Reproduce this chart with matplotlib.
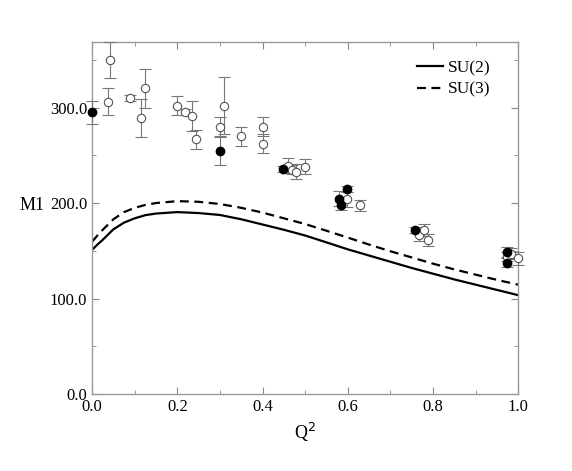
import numpy as np
import matplotlib
matplotlib.use("Agg")
from matplotlib import pyplot as plt
from matplotlib.ticker import MultipleLocator, FormatStrFormatter

plt.rcParams['font.family'] = ['Liberation Serif', 'DejaVu Serif']

# theory curves
q2_curve = [0.0, 0.0125, 0.025, 0.05, 0.075, 0.1, 0.125, 0.15, 0.2, 0.25, 0.3,
            0.35, 0.4, 0.45, 0.5, 0.55, 0.6, 0.65, 0.7, 0.75, 0.8, 0.85, 0.9,
            0.95, 1.0]
su2 = [151, 156.5, 161.5, 172.5, 179.5, 184, 187.3, 189, 190.5, 189.5, 187.5,
       183, 177.5, 172, 166, 158.8, 151.5, 145, 138.5, 132, 126, 120, 114.5,
       109, 103.5]
su3 = [159.5, 166, 172, 183, 190.5, 195, 198, 200, 202, 201.3, 199,
       195, 190, 184, 178, 171, 163.8, 156.5, 149.5, 143, 136.5, 130.5, 125,
       119.5, 114.5]

# filled data points
q2_full = [0.0, 0.30, 0.448, 0.579, 0.584, 0.599, 0.758, 0.973, 0.974]
m1_full = [295, 254.5, 235.5, 204.5, 197.5, 214.5, 172, 149, 137.5]
err_full = [12, 15, 3, 8, 5, 3, 3, 5, 5]

# open data points
q2_open = [0.037, 0.042, 0.088, 0.114, 0.124, 0.199, 0.218, 0.234, 0.244, 0.30,
           0.309, 0.349, 0.40, 0.40, 0.46, 0.469, 0.479, 0.50, 0.599, 0.629,
           0.768, 0.779, 0.789, 0.973, 0.984, 0.999]
m1_open = [306, 350, 310, 289, 320, 302, 295, 291, 267, 280,
           302, 270, 280, 262, 239, 235, 233, 238, 204, 197.5,
           166.5, 172, 161.5, 144, 147, 142]
err_open = [14, 19, 3, 20, 20, 10, 3, 16, 10, 10,
            30, 10, 10, 10, 8, 5, 8, 8, 8, 6,
            6, 6, 6, 5, 6, 7]

fig = plt.figure(figsize=(5.72, 4.71), dpi=100)
ax = fig.add_axes([0.161, 0.1635, 0.745, 0.748])

ax.plot(q2_curve, su2, color='black', lw=1.6, label='SU(2)')
ax.plot(q2_curve, su3, color='black', lw=1.6, ls=(0, (4, 2.5)), label='SU(3)')

ax.errorbar(q2_open, m1_open, yerr=err_open, fmt='o', ms=6, mfc='white',
            mec='#555555', mew=0.8, ecolor='#777777', elinewidth=0.8,
            capsize=4, capthick=0.8, clip_on=False, zorder=3)
ax.errorbar(q2_full, m1_full, yerr=err_full, fmt='o', ms=6, mfc='black',
            mec='black', ecolor='#777777', elinewidth=0.8, capsize=4,
            capthick=0.8, clip_on=False, zorder=3)

ax.set_xlim(0, 1)
ax.set_ylim(0, 369)
ax.xaxis.set_major_locator(MultipleLocator(0.2))
ax.xaxis.set_minor_locator(MultipleLocator(0.1))
ax.yaxis.set_major_locator(MultipleLocator(100))
ax.yaxis.set_minor_locator(MultipleLocator(50))
ax.xaxis.set_major_formatter(FormatStrFormatter('%.1f'))
ax.yaxis.set_major_formatter(FormatStrFormatter('%.1f'))
ax.tick_params(which='both', direction='in', top=True, right=True,
               color='#888888', labelsize=12)
ax.tick_params(which='major', length=5)
ax.tick_params(which='minor', length=3)
for s in ax.spines.values():
    s.set_color('#999999')
    s.set_linewidth(1.0)

ax.set_xlabel(r'Q$^2$', fontsize=13, labelpad=4)
ax.set_ylabel('M1', fontsize=13, rotation=0)
ax.yaxis.set_label_coords(-0.141, 0.51)

ax.legend(loc='upper right', bbox_to_anchor=(1.0, 1.026), frameon=False,
          fontsize=12.5, handlelength=1.5, handletextpad=0.3,
          borderaxespad=1.2, labelspacing=0.3)

fig.savefig('out.png', dpi=100)
